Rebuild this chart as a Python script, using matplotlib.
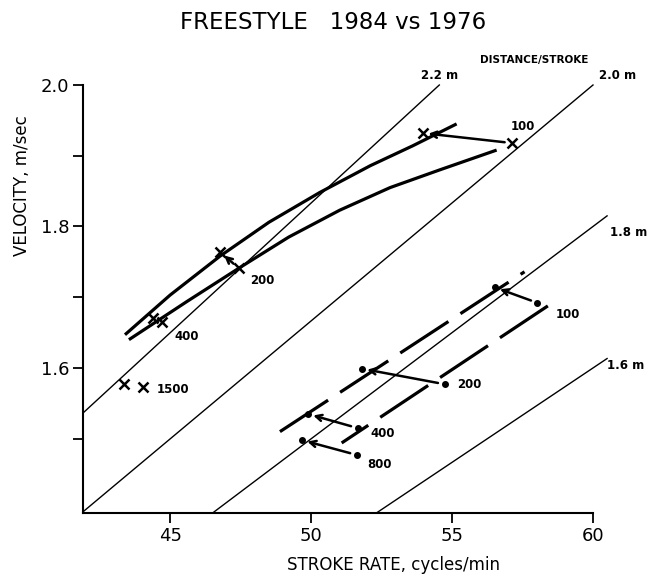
import matplotlib
matplotlib.use("Agg")
import matplotlib.pyplot as plt
import numpy as np

# distance per stroke lines (m)
dps = [2.2, 2.0, 1.8, 1.6]
dps_labels = ["2.2 m", "2.0 m", "1.8 m", "1.6 m"]

# men (x markers): 1976 -> 1984
men_events = ["100", "200", "400", "1500"]
men_sr_76 = [57.11, 47.43, 44.70, 44.03]
men_v_76 = [1.918, 1.741, 1.665, 1.573]
men_sr_84 = [53.96, 46.76, 44.38, 43.35]
men_v_84 = [1.932, 1.764, 1.671, 1.577]

# men fitted curves
men_curve84_sr = [43.39, 44.99, 46.76, 48.50, 50.30, 52.10, 53.60, 55.16]
men_curve84_v = [1.647, 1.703, 1.758, 1.806, 1.848, 1.886, 1.914, 1.945]
men_curve76_sr = [43.53, 45.59, 47.43, 49.20, 51.01, 52.80, 54.56, 56.58]
men_curve76_v = [1.640, 1.694, 1.741, 1.785, 1.823, 1.855, 1.880, 1.908]

# women (dots): 1976 -> 1984
women_events = ["100", "200", "400", "800"]
women_sr_76 = [58.03, 54.74, 51.65, 51.62]
women_v_76 = [1.692, 1.577, 1.515, 1.477]
women_sr_84 = [56.51, 51.79, 49.88, 49.67]
women_v_84 = [1.714, 1.599, 1.535, 1.498]

# women fitted lines
women_line84_sr = [48.89, 57.57]
women_line84_v = [1.510, 1.736]
women_line76_sr = [51.08, 58.71]
women_line76_v = [1.494, 1.696]

fig = plt.figure(figsize=(6.49, 5.79), dpi=100)
ax = fig.add_axes([0.1279, 0.114, 0.7858, 0.7392])
xmin, xmax = 41.9, 60.0
ymin, ymax = 1.395, 2.0

# constant distance/stroke lines  v = SR * d / 60
for d in dps:
    x0 = max(xmin, ymin * 60 / d)
    x1 = min(60.5, ymax * 60 / d)
    xs = np.array([x0, x1])
    ax.plot(xs, xs * d / 60, color="black", lw=1.0, clip_on=False)

ax.plot(men_curve84_sr, men_curve84_v, color="black", lw=2.3, solid_capstyle="butt")
ax.plot(men_curve76_sr, men_curve76_v, color="black", lw=2.3, solid_capstyle="butt")
ax.plot(women_line84_sr, women_line84_v, color="black", lw=2.3, linestyle=(0, (18, 4.5)))
ax.plot(women_line76_sr, women_line76_v, color="black", lw=2.3, linestyle=(8, (18, 4.5)))

ax.plot(men_sr_76, men_v_76, "x", color="black", ms=7, mew=1.8)
ax.plot(men_sr_84, men_v_84, "x", color="black", ms=7, mew=1.8)
ax.plot(women_sr_76, women_v_76, "o", color="black", ms=4)
ax.plot(women_sr_84, women_v_84, "o", color="black", ms=4)

arrow = dict(arrowstyle="->", lw=1.8, color="black", shrinkA=5, shrinkB=4, mutation_scale=11)
for i in range(2):
    ax.annotate("", xy=(men_sr_84[i], men_v_84[i]), xytext=(men_sr_76[i], men_v_76[i]), arrowprops=arrow)
for i in range(4):
    ax.annotate("", xy=(women_sr_84[i], women_v_84[i]), xytext=(women_sr_76[i], women_v_76[i]), arrowprops=arrow)

lab = dict(fontsize=8.5, fontweight="bold", ha="center", va="center")
men_lab_pos = [(57.52, 1.941), (48.28, 1.724), (45.59, 1.644), (45.09, 1.570)]
for t, (x, y) in zip(men_events, men_lab_pos):
    ax.text(x, y, t, **lab)
women_lab_pos = [(59.10, 1.675), (55.62, 1.576), (52.54, 1.508), (52.43, 1.463)]
for t, (x, y) in zip(women_events, women_lab_pos):
    ax.text(x, y, t, **lab)

dps_pos = [(54.56, 2.014, "center"), (60.87, 2.014, "center"), (60.6, 1.791, "left"), (60.5, 1.604, "left")]
for t, (x, y, ha) in zip(dps_labels, dps_pos):
    ax.text(x, y, t, fontsize=8.5, fontweight="bold", ha=ha, va="center", clip_on=False)
ax.text(57.93, 2.035, "DISTANCE/STROKE", fontsize=7.5, fontweight="bold", ha="center", va="center")

ax.set_xlim(xmin, xmax)
ax.set_ylim(ymin, ymax)
ax.set_xticks([45, 50, 55, 60])
ax.set_yticks([1.6, 1.8, 2.0])
ax.set_yticklabels(["1.6", "1.8", "2.0"])
ax.set_yticks([1.5, 1.7, 1.9], minor=True)
ax.tick_params(axis="both", which="both", direction="out", length=7, width=1.3, labelsize=13, pad=3)
ax.spines["top"].set_visible(False)
ax.spines["right"].set_visible(False)
ax.spines["left"].set_linewidth(1.5)
ax.spines["bottom"].set_linewidth(1.5)

fig.text(0.513, 0.962, "FREESTYLE   1984 vs 1976", fontsize=16.5, ha="center", va="center")
fig.text(0.606, 0.024, "STROKE RATE, cycles/min", fontsize=12, ha="center", va="center")
fig.text(0.034, 0.68, "VELOCITY, m/sec", fontsize=12, ha="center", va="center", rotation=90)

fig.savefig("out.png", dpi=100)
